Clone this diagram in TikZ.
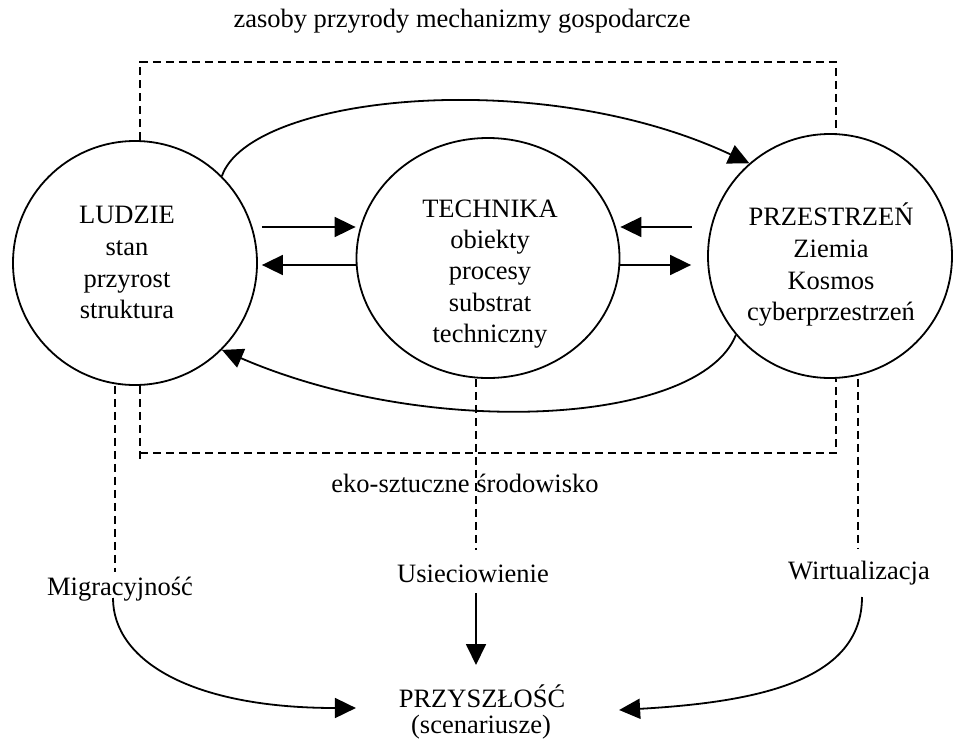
\documentclass[tikz,border=0pt]{standalone}
\usepackage{fontspec}
\setmainfont{Liberation Serif}
\usetikzlibrary{arrows.meta,calc,shapes.geometric}
\begin{document}
\begin{tikzpicture}[x=1pt,y=-1pt,
  line width=1.8pt,
  circ/.style={draw,circle,minimum size=244pt,inner sep=0pt},
  ell/.style={draw,ellipse,minimum width=263pt,minimum height=240pt,inner sep=0pt},
  txt/.style={inner sep=0pt,anchor=base,font=\fontsize{26.5}{31.5}\selectfont},
  arr/.style={-{Triangle[length=21pt,width=20pt]}},
  dsh/.style={dash pattern=on 8pt off 5pt}]
\useasboundingbox (0,0) rectangle (959,745);

% main shapes
\node[circ] (L) at (135,263) {};
\node[ell]  (T) at (488,258) {};
\node[circ] (P) at (830,256) {};

% circle texts
\node[txt] (L1) at (127,223) {LUDZIE};
\node[txt] (L2) at (127,255) {stan};
\node[txt] (L3) at (127,287) {przyrost};
\node[txt] (L4) at (127,318) {struktura};

\node[txt] (T1) at (490,217) {TECHNIKA};
\node[txt] (T2) at (490,248) {obiekty};
\node[txt] (T3) at (490,279) {procesy};
\node[txt] (T4) at (490,311) {substrat};
\node[txt] (T5) at (490,342) {techniczny};

\node[txt] (P1) at (831,225) {PRZESTRZEŃ};
\node[txt] (P2) at (831,257) {Ziemia};
\node[txt] (P3) at (831,289) {Kosmos};
\node[txt] (P4) at (831,320) {cyberprzestrzeń};

% other labels
\node[txt] (top) at (462,27) {zasoby przyrody mechanizmy gospodarcze};
\node[txt] (eko) at (465,492) {eko-sztuczne środowisko};
\node[txt] (M) at (120,595) {Migracyjność};
\node[txt] (U) at (473,582) {Usieciowienie};
\node[txt] (W) at (859,579) {Wirtualizacja};
\node[txt] (F) at (482,707) {PRZYSZŁOŚĆ};
\node[txt] (S) at (481,733) {(scenariusze)};

% straight arrows between circles
\draw[arr] ([xshift=4pt,yshift=36pt]L.east) -- ([yshift=31pt]T.west);
\draw[arr] ([yshift=-7pt]T.west) -- ([xshift=4pt,yshift=-2pt]L.east);
\draw[arr] ([xshift=-15pt,yshift=29pt]P.west) -- ([yshift=31pt]T.east);
\draw[arr] ([yshift=-7pt]T.east) -- ([xshift=-16pt,yshift=-9pt]P.west);

% curved arrows
\draw[arr] (L.45) .. controls (250,95) and (540,65) .. (P.131);
\draw[arr] (P.220) .. controls (700,425) and (430,440) .. (L.-45);

% dashed frame top
\coordinate (tl) at (140,62);
\coordinate (tr) at (836,62);
\draw[dsh] ([xshift=5pt]L.north) -- (tl) -- (tr) -- ([xshift=6pt]P.north);

% dashed frame bottom
\coordinate (bl) at (140,462);
\coordinate (bc) at (140,453);
\coordinate (br) at (836,453);
\draw[dsh] ([xshift=5pt]L.south) -- (bl);
\draw[dsh] (bc) -- (br) -- ([xshift=6pt]P.south);

% dashed lines down to labels
\coordinate (mtop) at (115,572);
\coordinate (utop) at (476,550);
\coordinate (wtop) at (858,548);
\draw[dsh] ([xshift=-20pt]L.south) -- (mtop);
\draw[dsh] ([xshift=-12pt]T.south) -- (utop);
\draw[dsh] ([xshift=28pt]P.south) -- (wtop);

% arrows to future
\coordinate (ms) at (113,598);
\coordinate (ua) at (476,593);
\coordinate (ub) at (476,665);
\coordinate (ws) at (862,597);
\draw[arr] (ms) .. controls (113,660) and (190,708) .. ([xshift=-42pt,yshift=-1pt]F.base west);
\draw[arr] (ua) -- (ub);
\draw[arr] (ws) .. controls (862,680) and (760,702) .. ([xshift=53pt,yshift=-3pt]F.base east);
\end{tikzpicture}
\end{document}
